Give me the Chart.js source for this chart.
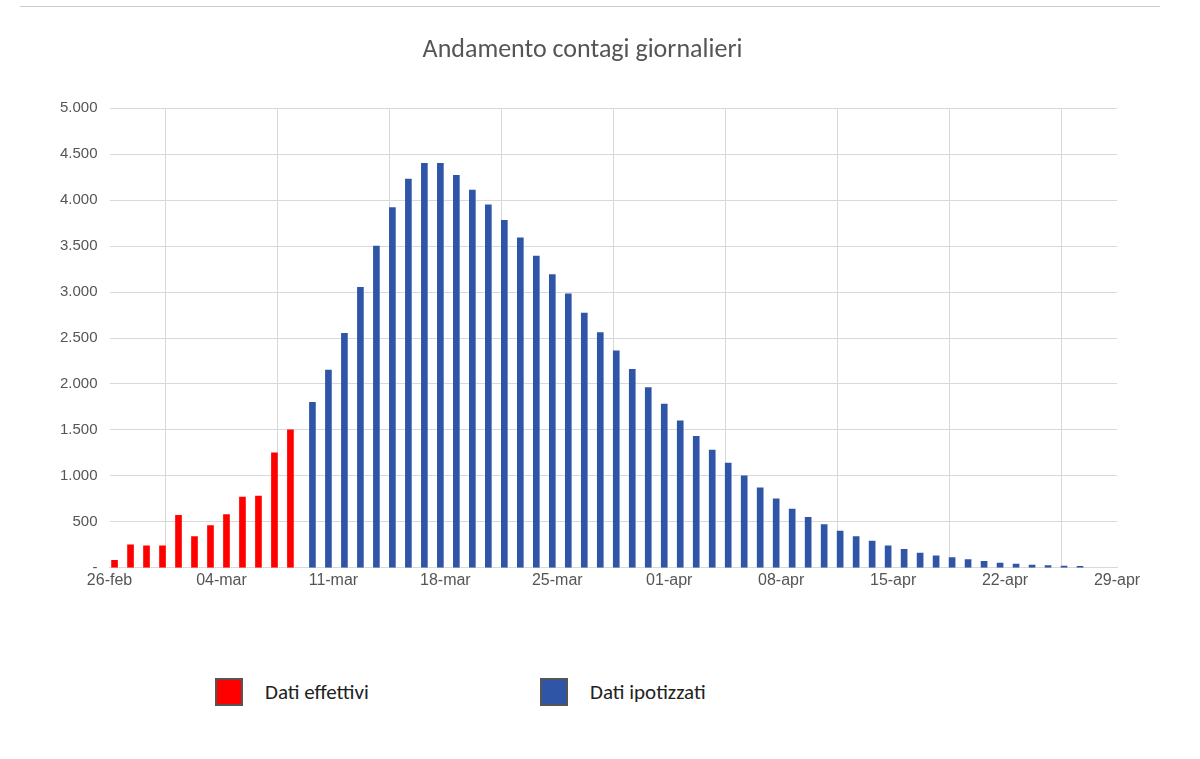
<!DOCTYPE html>
<html><head><meta charset="utf-8">
<script src="https://cdn.jsdelivr.net/npm/chart.js@4/dist/chart.umd.min.js"></script>
<style>
body{margin:0;background:#fff;font-family:Calibri,"Liberation Sans","Open Sans",sans-serif;}
#top{position:absolute;left:20px;right:40px;top:6px;height:1px;background:#ccc;}
#wrap{position:absolute;left:0;top:0;width:1200px;height:640px;}
.lg{position:absolute;top:678px;font-size:21px;color:#222;display:flex;align-items:center;}
.sw{width:28px;height:28px;margin-right:22px;border:2px solid #555;box-sizing:border-box;}
</style></head><body>
<div id="top"></div>
<div id="wrap"><canvas id="c" width="1200" height="640"></canvas></div>
<div class="lg" style="left:215px"><div class="sw" style="background:#f00"></div>Dati effettivi</div>
<div class="lg" style="left:540px"><div class="sw" style="background:#2f56a6"></div>Dati ipotizzati</div>
<script>
const tickLabels = ["26-feb","04-mar","11-mar","18-mar","25-mar","01-apr","08-apr","15-apr","22-apr","29-apr"];
const actual = [80,250,240,240,570,340,460,580,770,780,1250,1500];
const projected = [1800,2150,2550,3050,3500,3920,4230,4400,4400,4270,4110,3950,3780,3590,3390,3190,2980,2770,2560,2360,2160,1960,1780,1600,1430,1280,1140,1000,870,750,640,550,470,400,340,290,240,200,160,130,110,90,70,50,40,30,25,20,15];
const actualPts = actual.map((v,i)=>({x:i+0.5,y:v}));
const projPts = projected.map((v,i)=>({x:actual.length+i+0.5,y:v}));
new Chart(document.getElementById('c'),{
 type:'bar',
 data:{datasets:[
  {label:'Dati effettivi',data:actualPts,backgroundColor:'#f00',barThickness:6},
  {label:'Dati ipotizzati',data:projPts,backgroundColor:'#2f56a6',barThickness:6}
 ]},
 options:{responsive:false,animation:false,
  layout:{padding:{left:48,right:83,top:10,bottom:47}},
  plugins:{legend:{display:false},tooltip:{enabled:false},
   title:{display:true,text:'Andamento contagi giornalieri',color:'#555',font:{size:26,family:'Calibri, "Liberation Sans", sans-serif',weight:'normal'},padding:{top:25,bottom:42}}},
  scales:{
   x:{type:'linear',min:0,max:63,offset:false,
    ticks:{stepSize:7,autoSkip:false,color:'#555',font:{size:16},callback:v=>tickLabels[v/7]},
    grid:{color:'#d9d9d9',drawTicks:false},border:{color:'#d9d9d9'}},
   y:{min:0,max:5000,
    ticks:{stepSize:500,color:'#555',font:{size:15},padding:12,callback:v=>v===0?'-':v.toLocaleString('it-IT').replace(/\s/g,'.').replace(/^(\d)(\d{3})$/,'$1.$2')},
    grid:{color:'#d9d9d9',drawTicks:false},border:{display:false}}
  }}
});
</script></body></html>
